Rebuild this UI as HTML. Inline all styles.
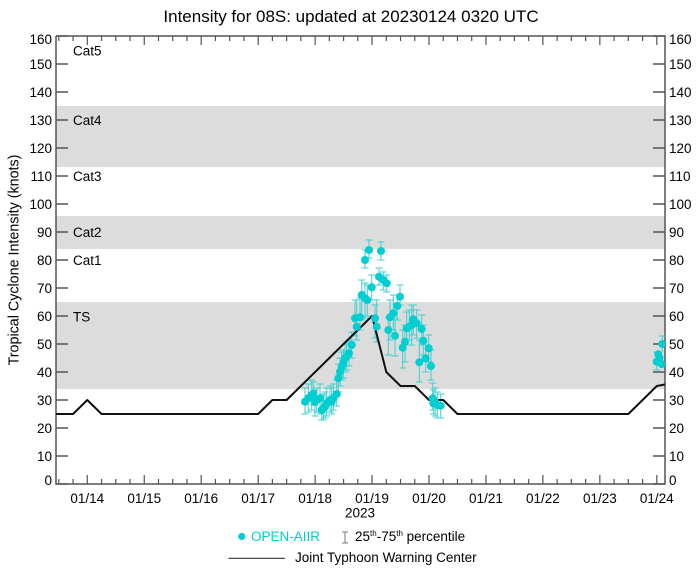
<!DOCTYPE html>
<html><head><meta charset="utf-8"><style>
html,body{margin:0;padding:0;background:#fff;}
svg{display:block;}
text{font-family:"Liberation Sans",Arial,sans-serif;fill:#000;}
</style></head><body>
<svg width="699" height="570" viewBox="0 0 699 570" xmlns="http://www.w3.org/2000/svg">
<defs><clipPath id="pc"><rect x="56" y="36" width="609" height="448"/></clipPath></defs>
<rect width="699" height="570" fill="#fff"/>
<text x="351" y="22" font-size="17" text-anchor="middle">Intensity for 08S: updated at 20230124 0320 UTC</text>
<!-- bands -->
<rect x="56" y="106" width="609" height="61" fill="#dcdcdc"/>
<rect x="56" y="216" width="609" height="33" fill="#dcdcdc"/>
<rect x="56" y="302" width="609" height="87" fill="#dcdcdc"/>
<!-- category labels -->
<g font-size="13.5">
<text x="73" y="55.5">Cat5</text>
<text x="73" y="125">Cat4</text>
<text x="73" y="181">Cat3</text>
<text x="73" y="237">Cat2</text>
<text x="73" y="265">Cat1</text>
<text x="73" y="321.5">TS</text>
</g>
<!-- axes -->
<g stroke="#555" stroke-width="1.5" fill="none">
<path d="M56 36 V484 H665 V36 H56"/>
<!-- y ticks left -->
<path d="M56 484H68M56 456H68M56 428H68M56 400H68M56 372H68M56 344H68M56 316H68M56 288H68M56 260H68M56 232H68M56 204H68M56 176H68M56 148H68M56 120H68M56 92H68M56 64H68M56 36H68"/>
<path d="M665 484H653M665 456H653M665 428H653M665 400H653M665 372H653M665 344H653M665 316H653M665 288H653M665 260H653M665 232H653M665 204H653M665 176H653M665 148H653M665 120H653M665 92H653M665 64H653M665 36H653"/>
</g>
<g stroke="#555" stroke-width="1.2" fill="none">
<!-- bottom major -->
<path d="M87.3 484V475M144.25 484V475M201.2 484V475M258.15 484V475M315.1 484V475M372.05 484V475M429 484V475M485.95 484V475M542.9 484V475M599.85 484V475M656.8 484V475"/>
<!-- bottom minor -->
<path d="M58.83 484V479M73.06 484V479M101.54 484V479M115.78 484V479M130.01 484V479M158.49 484V479M172.73 484V479M186.96 484V479M215.44 484V479M229.68 484V479M243.91 484V479M272.39 484V479M286.63 484V479M300.86 484V479M329.34 484V479M343.58 484V479M357.81 484V479M386.29 484V479M400.53 484V479M414.76 484V479M443.24 484V479M457.48 484V479M471.71 484V479M500.19 484V479M514.43 484V479M528.66 484V479M557.14 484V479M571.38 484V479M585.61 484V479M614.09 484V479M628.33 484V479M642.56 484V479"/>
<!-- top major -->
<path d="M87.3 36V45M144.25 36V45M201.2 36V45M258.15 36V45M315.1 36V45M372.05 36V45M429 36V45M485.95 36V45M542.9 36V45M599.85 36V45M656.8 36V45"/>
<!-- top minor -->
<path d="M58.83 36V41M73.06 36V41M101.54 36V41M115.78 36V41M130.01 36V41M158.49 36V41M172.73 36V41M186.96 36V41M215.44 36V41M229.68 36V41M243.91 36V41M272.39 36V41M286.63 36V41M300.86 36V41M329.34 36V41M343.58 36V41M357.81 36V41M386.29 36V41M400.53 36V41M414.76 36V41M443.24 36V41M457.48 36V41M471.71 36V41M500.19 36V41M514.43 36V41M528.66 36V41M557.14 36V41M571.38 36V41M585.61 36V41M614.09 36V41M628.33 36V41M642.56 36V41"/>
</g>
<!-- y labels left -->
<g font-size="13.5" text-anchor="end">
<text x="52" y="485">0</text>
<text x="52" y="461">10</text>
<text x="52" y="433">20</text>
<text x="52" y="405">30</text>
<text x="52" y="377">40</text>
<text x="52" y="349">50</text>
<text x="52" y="321">60</text>
<text x="52" y="293">70</text>
<text x="52" y="265">80</text>
<text x="52" y="237">90</text>
<text x="52" y="209">100</text>
<text x="52" y="181">110</text>
<text x="52" y="153">120</text>
<text x="52" y="125">130</text>
<text x="52" y="97">140</text>
<text x="52" y="69">150</text>
<text x="52" y="44">160</text>
</g>
<g font-size="13.5" text-anchor="start">
<text x="669" y="485">0</text>
<text x="669" y="461">10</text>
<text x="669" y="433">20</text>
<text x="669" y="405">30</text>
<text x="669" y="377">40</text>
<text x="669" y="349">50</text>
<text x="669" y="321">60</text>
<text x="669" y="293">70</text>
<text x="669" y="265">80</text>
<text x="669" y="237">90</text>
<text x="669" y="209">100</text>
<text x="669" y="181">110</text>
<text x="669" y="153">120</text>
<text x="669" y="125">130</text>
<text x="669" y="97">140</text>
<text x="669" y="69">150</text>
<text x="669" y="44">160</text>
</g>
<!-- x labels -->
<g font-size="13.5" text-anchor="middle">
<text x="87.3" y="503">01/14</text>
<text x="144.25" y="503">01/15</text>
<text x="201.2" y="503">01/16</text>
<text x="258.15" y="503">01/17</text>
<text x="315.1" y="503">01/18</text>
<text x="372.05" y="503">01/19</text>
<text x="429" y="503">01/20</text>
<text x="485.95" y="503">01/21</text>
<text x="542.9" y="503">01/22</text>
<text x="599.85" y="503">01/23</text>
<text x="656.8" y="503">01/24</text>
<text x="360" y="517.5">2023</text>
</g>
<text transform="translate(18.5,260) rotate(-90)" font-size="14.3" text-anchor="middle">Tropical Cyclone Intensity (knots)</text>

<g clip-path="url(#pc)">
<!-- error bars -->
<g stroke="#3fcfcf" stroke-width="1" fill="none">
<path d="M305 388V414M301.5 388H308.5M301.5 414H308.5"/>
<path d="M308.3 384V412M304.8 384H311.8M304.8 412H311.8"/>
<path d="M311.7 380V410M308.2 380H315.2M308.2 410H315.2"/>
<path d="M313.3 382V405M309.8 382H316.8M309.8 405H316.8"/>
<path d="M316.7 388V412M313.2 388H320.2M313.2 412H320.2"/>
<path d="M315 390V416M311.5 390H318.5M311.5 416H318.5"/>
<path d="M320 384V414M316.5 384H323.5M316.5 414H323.5"/>
<path d="M321.7 396V420M318.2 396H325.2M318.2 420H325.2"/>
<path d="M323.3 394V420M319.8 394H326.8M319.8 420H326.8"/>
<path d="M325 392V418M321.5 392H328.5M321.5 418H328.5"/>
<path d="M326.7 388V416M323.2 388H330.2M323.2 416H330.2"/>
<path d="M330 386V412M326.5 386H333.5M326.5 412H333.5"/>
<path d="M331.7 388V414M328.2 388H335.2M328.2 414H335.2"/>
<path d="M333.3 384V410M329.8 384H336.8M329.8 410H336.8"/>
<path d="M336.7 380V406M333.2 380H340.2M333.2 406H340.2"/>
<path d="M338.3 364V392M334.8 364H341.8M334.8 392H341.8"/>
<path d="M340 358V386M336.5 358H343.5M336.5 386H343.5"/>
<path d="M341.7 352V380M338.2 352H345.2M338.2 380H345.2"/>
<path d="M343.3 350V378M339.8 350H346.8M339.8 378H346.8"/>
<path d="M345 344V372M341.5 344H348.5M341.5 372H348.5"/>
<path d="M346.7 342V370M343.2 342H350.2M343.2 370H350.2"/>
<path d="M349 340V366M345.5 340H352.5M345.5 366H352.5"/>
<path d="M351.7 332V358M348.2 332H355.2M348.2 358H355.2"/>
<path d="M355 300V336M351.5 300H358.5M351.5 336H358.5"/>
<path d="M356.7 300V340M353.2 300H360.2M353.2 340H360.2"/>
<path d="M360 298V330M356.5 298H363.5M356.5 330H363.5"/>
<path d="M361.7 280V320M358.2 280H365.2M358.2 320H365.2"/>
<path d="M365 283V318M361.5 283H368.5M361.5 318H368.5"/>
<path d="M367.3 285V316M363.8 285H370.8M363.8 316H370.8"/>
<path d="M365 250V268M361.5 250H368.5M361.5 268H368.5"/>
<path d="M369 240V258M365.5 240H372.5M365.5 258H372.5"/>
<path d="M371.7 275V300M368.2 275H375.2M368.2 300H375.2"/>
<path d="M375 305V338M371.5 305H378.5M371.5 338H378.5"/>
<path d="M376.7 300V342M373.2 300H380.2M373.2 342H380.2"/>
<path d="M381 242V260M377.5 242H384.5M377.5 260H384.5"/>
<path d="M379 268V285M375.5 268H382.5M375.5 285H382.5"/>
<path d="M383.3 272V290M379.8 272H386.8M379.8 290H386.8"/>
<path d="M386.7 275V292M383.2 275H390.2M383.2 292H390.2"/>
<path d="M388.3 318V355M384.8 318H391.8M384.8 355H391.8"/>
<path d="M390 300V340M386.5 300H393.5M386.5 340H393.5"/>
<path d="M393.3 295V330M389.8 295H396.8M389.8 330H396.8"/>
<path d="M395 318V356M391.5 318H398.5M391.5 356H398.5"/>
<path d="M397.3 295V320M393.8 295H400.8M393.8 320H400.8"/>
<path d="M400 285V305M396.5 285H403.5M396.5 305H403.5"/>
<path d="M402.7 330V368M399.2 330H406.2M399.2 368H406.2"/>
<path d="M405 325V362M401.5 325H408.5M401.5 362H408.5"/>
<path d="M406.7 312V345M403.2 312H410.2M403.2 345H410.2"/>
<path d="M409.3 310V340M405.8 310H412.8M405.8 340H412.8"/>
<path d="M411.7 305V345M408.2 305H415.2M408.2 345H415.2"/>
<path d="M413.3 305V335M409.8 305H416.8M409.8 335H416.8"/>
<path d="M416.7 310V338M413.2 310H420.2M413.2 338H420.2"/>
<path d="M419.3 340V382M415.8 340H422.8M415.8 382H422.8"/>
<path d="M421.7 315V345M418.2 315H425.2M418.2 345H425.2"/>
<path d="M423.3 325V355M419.8 325H426.8M419.8 355H426.8"/>
<path d="M425.7 345V372M422.2 345H429.2M422.2 372H429.2"/>
<path d="M428.7 335V362M425.2 335H432.2M425.2 362H432.2"/>
<path d="M431 350V380M427.5 350H434.5M427.5 380H434.5"/>
<path d="M432.7 383V410M429.2 383H436.2M429.2 410H436.2"/>
<path d="M433.3 390V414M429.8 390H436.8M429.8 414H436.8"/>
<path d="M435 388V416M431.5 388H438.5M431.5 416H438.5"/>
<path d="M437.3 392V418M433.8 392H440.8M433.8 418H440.8"/>
<path d="M440.7 394V418M437.2 394H444.2M437.2 418H444.2"/>
<path d="M656.7 352V370M653.2 352H660.2M653.2 370H660.2"/>
<path d="M662.3 336V352M658.8 336H665.8"/>
</g>
<!-- JTWC line -->
<path d="M56 414H73.06L87.3 400L101.54 414H258.15L272.39 400H286.63L372.05 316L386.29 372L400.53 386H414.76L429 400H443.24L457.48 414H628.33L656.8 386L665 384.5" stroke="#111" stroke-width="2" fill="none" stroke-linejoin="round"/>
<!-- dots -->
<g fill="#00ced1">
<circle cx="305" cy="401.7" r="4"/>
<circle cx="308.3" cy="398.3" r="4"/>
<circle cx="311.7" cy="395" r="4"/>
<circle cx="313.3" cy="393.3" r="4"/>
<circle cx="316.7" cy="400" r="4"/>
<circle cx="315" cy="402" r="4"/>
<circle cx="320" cy="398.3" r="4"/>
<circle cx="321.7" cy="410" r="4"/>
<circle cx="323.3" cy="408.3" r="4"/>
<circle cx="325" cy="406.7" r="4"/>
<circle cx="326.7" cy="403.3" r="4"/>
<circle cx="330" cy="400" r="4"/>
<circle cx="331.7" cy="401.7" r="4"/>
<circle cx="333.3" cy="398.3" r="4"/>
<circle cx="336.7" cy="394" r="4"/>
<circle cx="338.3" cy="378.3" r="4"/>
<circle cx="340" cy="371.7" r="4"/>
<circle cx="341.7" cy="366.7" r="4"/>
<circle cx="343.3" cy="363" r="4"/>
<circle cx="345" cy="358.3" r="4"/>
<circle cx="346.7" cy="356.7" r="4"/>
<circle cx="349" cy="353.3" r="4"/>
<circle cx="351.7" cy="345" r="4"/>
<circle cx="355" cy="318.3" r="4"/>
<circle cx="356.7" cy="326.7" r="4"/>
<circle cx="360" cy="317.3" r="4"/>
<circle cx="361.7" cy="295" r="4"/>
<circle cx="365" cy="298.3" r="4"/>
<circle cx="367.3" cy="300" r="4"/>
<circle cx="365" cy="260" r="4"/>
<circle cx="369" cy="250" r="4"/>
<circle cx="371.7" cy="287.3" r="4"/>
<circle cx="375" cy="318.3" r="4"/>
<circle cx="376.7" cy="326.7" r="4"/>
<circle cx="381" cy="251" r="4"/>
<circle cx="379" cy="276.7" r="4"/>
<circle cx="383.3" cy="280" r="4"/>
<circle cx="386.7" cy="283.3" r="4"/>
<circle cx="388.3" cy="330" r="4"/>
<circle cx="390" cy="317.3" r="4"/>
<circle cx="393.3" cy="313.3" r="4"/>
<circle cx="395" cy="335.7" r="4"/>
<circle cx="397.3" cy="306" r="4"/>
<circle cx="400" cy="296.7" r="4"/>
<circle cx="402.7" cy="347.7" r="4"/>
<circle cx="405" cy="341.7" r="4"/>
<circle cx="406.7" cy="328.3" r="4"/>
<circle cx="409.3" cy="326.7" r="4"/>
<circle cx="411.7" cy="325" r="4"/>
<circle cx="413.3" cy="319.3" r="4"/>
<circle cx="416.7" cy="323.3" r="4"/>
<circle cx="419.3" cy="362.3" r="4"/>
<circle cx="421.7" cy="329" r="4"/>
<circle cx="423.3" cy="340.7" r="4"/>
<circle cx="425.7" cy="358.3" r="4"/>
<circle cx="428.7" cy="348.3" r="4"/>
<circle cx="431" cy="366" r="4"/>
<circle cx="432.7" cy="398.3" r="4"/>
<circle cx="433.3" cy="403.3" r="4"/>
<circle cx="435" cy="401.7" r="4"/>
<circle cx="437.3" cy="405" r="4"/>
<circle cx="440.7" cy="405.7" r="4"/>
<circle cx="662.3" cy="344" r="4"/>
<circle cx="658.3" cy="354.3" r="4"/>
<circle cx="656.7" cy="361.7" r="4"/>
<circle cx="661.7" cy="364" r="4"/>
<circle cx="659.5" cy="358" r="4"/>
</g>
</g>

<!-- legend -->
<circle cx="241.7" cy="536.5" r="3.6" fill="#00ced1"/>
<text x="251" y="541" font-size="13.5" style="fill:#00ced1">OPEN-AIIR</text>
<path d="M345 532V543M342 532H348M342 543H348" stroke="#777" stroke-width="1" fill="none"/>
<text x="355" y="541" font-size="13.5">25<tspan font-size="8" dy="-5">th</tspan><tspan dy="5">-75</tspan><tspan font-size="8" dy="-5">th</tspan><tspan dy="5"> percentile</tspan></text>
<path d="M228.5 558.3H285" stroke="#333" stroke-width="1.2"/>
<text x="295" y="562" font-size="13.5">Joint Typhoon Warning Center</text>
</svg>
</body></html>
